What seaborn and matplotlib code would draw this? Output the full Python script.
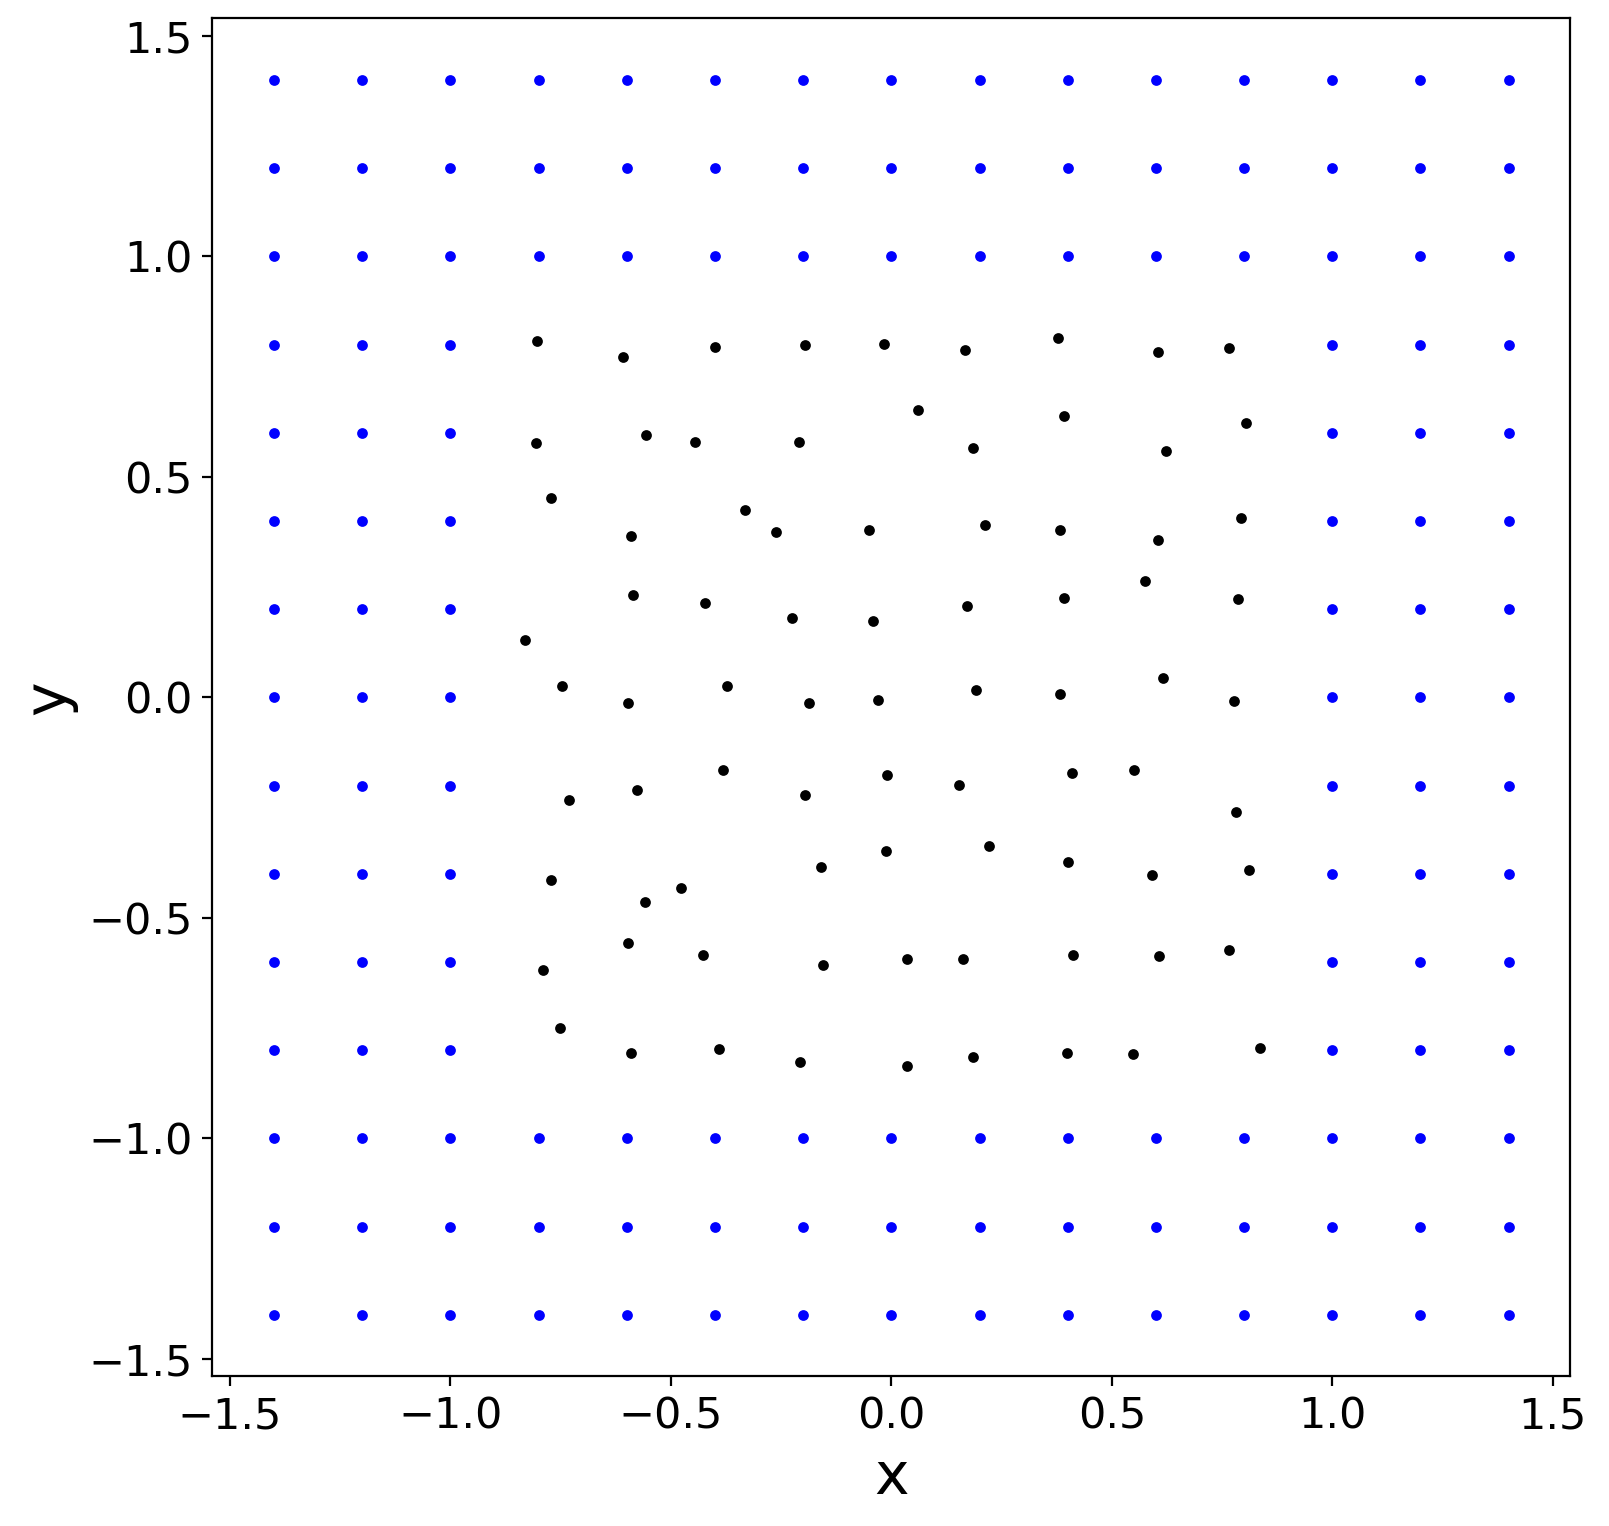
import matplotlib
matplotlib.use('Agg')
import matplotlib.pyplot as plt
import seaborn as sns
import pandas as pd
import numpy as np

# Outer fixed grid (blue): -1.4..1.4 step 0.2, minus the inner -0.8..0.8 block
grid_vals = [-1.4, -1.2, -1.0, -0.8, -0.6, -0.4, -0.2, 0.0, 0.2, 0.4, 0.6, 0.8, 1.0, 1.2, 1.4]
inner_limit = 0.8

# Perturbed inner points (black)
free_x = [
    -0.804, -0.608, -0.399, -0.196, -0.016, 0.166, 0.378, 0.604, 0.765,
    -0.807, -0.557, -0.445, -0.210, 0.061, 0.184, 0.392, 0.622, 0.804,
    -0.772, -0.590, -0.333, -0.261, -0.051, 0.212, 0.382, 0.604, 0.793,
    -0.830, -0.587, -0.422, -0.226, -0.042, 0.172, 0.392, 0.576, 0.786,
    -0.746, -0.597, -0.373, -0.186, -0.030, 0.193, 0.382, 0.615, 0.776,
    -0.732, -0.578, -0.382, -0.196, -0.009, 0.154, 0.410, 0.550, 0.781,
    -0.772, -0.559, -0.478, -0.159, -0.012, 0.221, 0.401, 0.590, 0.811,
    -0.790, -0.597, -0.427, -0.154, 0.035, 0.163, 0.413, 0.606, 0.765,
    -0.751, -0.590, -0.392, -0.207, 0.035, 0.186, 0.399, 0.548, 0.837,
]
free_y = [
    0.809, 0.772, 0.795, 0.800, 0.802, 0.788, 0.816, 0.784, 0.793,
    0.577, 0.595, 0.579, 0.579, 0.651, 0.565, 0.637, 0.558, 0.623,
    0.453, 0.367, 0.426, 0.374, 0.379, 0.391, 0.379, 0.358, 0.407,
    0.130, 0.233, 0.214, 0.179, 0.174, 0.207, 0.226, 0.265, 0.223,
    0.026, -0.012, 0.026, -0.012, -0.005, 0.016, 0.007, 0.044, -0.009,
    -0.233, -0.209, -0.165, -0.221, -0.177, -0.198, -0.172, -0.165, -0.260,
    -0.414, -0.463, -0.433, -0.384, -0.349, -0.337, -0.374, -0.402, -0.391,
    -0.619, -0.556, -0.584, -0.607, -0.593, -0.593, -0.584, -0.586, -0.572,
    -0.749, -0.807, -0.798, -0.828, -0.835, -0.816, -0.807, -0.809, -0.795,
]

gx, gy = np.meshgrid(grid_vals, grid_vals)
gx, gy = gx.ravel(), gy.ravel()
outer = ~((np.abs(gx) <= inner_limit + 1e-9) & (np.abs(gy) <= inner_limit + 1e-9))
fixed_df = pd.DataFrame({'x': gx[outer], 'y': gy[outer]})
free_df = pd.DataFrame({'x': free_x, 'y': free_y})

fig, ax = plt.subplots(figsize=(8.045, 7.63), dpi=200)
fig.subplots_adjust(left=0.132, right=0.976, top=0.988, bottom=0.098)

sns.scatterplot(data=fixed_df, x='x', y='y', color='blue', s=15, linewidth=0, ax=ax)
sns.scatterplot(data=free_df, x='x', y='y', color='black', s=15, linewidth=0, ax=ax)

ax.set_xlim(-1.54, 1.54)
ax.set_ylim(-1.54, 1.54)
ax.set_xticks([-1.5, -1.0, -0.5, 0.0, 0.5, 1.0, 1.5])
ax.set_yticks([-1.5, -1.0, -0.5, 0.0, 0.5, 1.0, 1.5])
ax.tick_params(labelsize=15.5)
ax.set_xlabel('x', fontsize=21)
ax.set_ylabel('y', fontsize=21)

plt.savefig('out.png', dpi=200)
plt.close()
